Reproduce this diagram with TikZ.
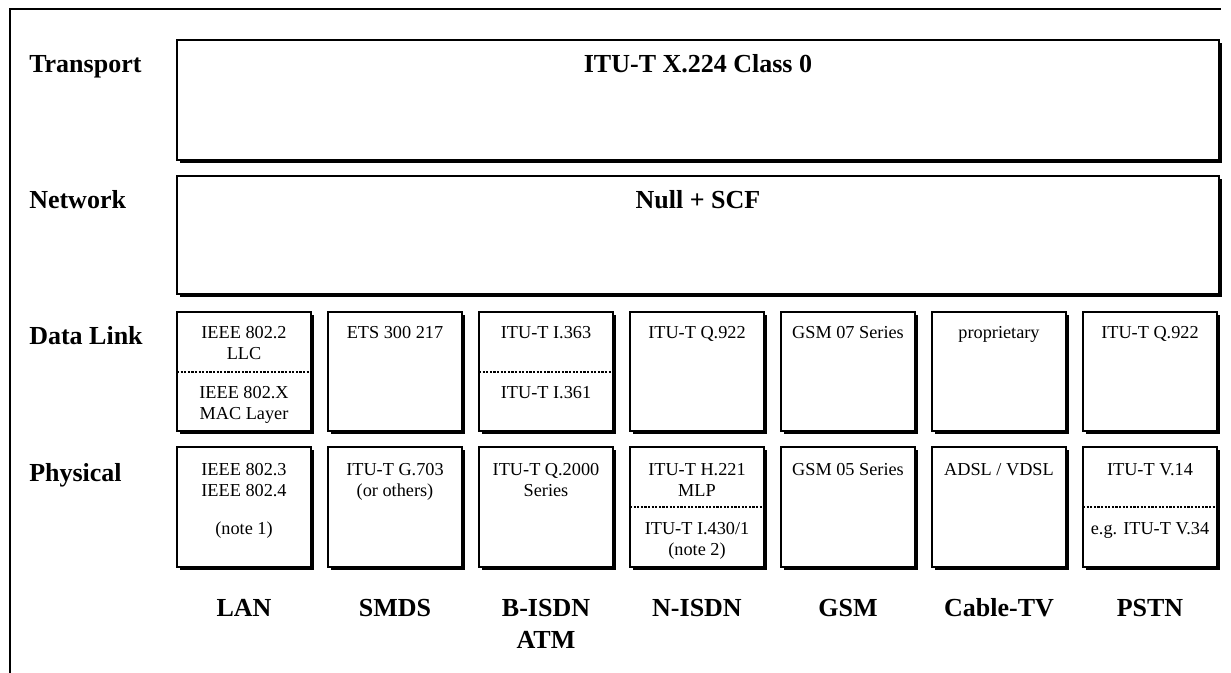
\documentclass[tikz,border=0pt]{standalone}
\usepackage{fontspec}
\setmainfont{Liberation Serif}
\usetikzlibrary{shadows}
\begin{document}
\begin{tikzpicture}[x=0.75pt,y=-0.75pt,
  frameline/.style={line width=1.8pt},
  box/.style={draw, line width=1.8pt, fill=white, inner sep=0pt, outer sep=0pt, anchor=north west,
     minimum width=100.5pt,
     drop shadow={shadow xshift=2.1pt, shadow yshift=-2.1pt, fill=black, opacity=1}},
  dlbox/.style={box, minimum height=89.25pt},
  phbox/.style={box, minimum height=90pt},
  layerbox/.style={box, minimum width=781.5pt},
  divider/.style={line width=2pt, dash pattern=on 1.6pt off 1.1pt},
  lbl/.style={font=\fontsize{19.5}{23}\selectfont\bfseries, inner sep=0pt},
  txt/.style={font=\fontsize{13.7}{16}\selectfont, inner sep=0pt, anchor=base},
]
\useasboundingbox (0,0) rectangle (1231,673);
% outer frame
\draw[frameline] (10,673) -- (10,9) -- (1221,9);

% row labels
\node[lbl, anchor=base west] (rTransport) at (29,73) {Transport};
\node[lbl, anchor=base west] (rNetwork) at (29,209) {Network};
\node[lbl, anchor=base west] (rDataLink) at (29,345) {Data Link};
\node[lbl, anchor=base west] (rPhysical) at (29,481) {Physical};

% upper layers
\node[layerbox, minimum height=90pt] (transport) at (177,40) {};
\node[lbl, anchor=base] (transportT) at (698,73) {ITU-T X.224 Class 0};
\node[layerbox, minimum height=88.5pt] (network) at (177,176) {};
\node[lbl, anchor=base] (networkT) at (698,209) {Null + SCF};

% column boxes
\foreach \i/\n in {0/lan,1/smds,2/bisdn,3/nisdn,4/gsm,5/cable,6/pstn}{
  \node[dlbox] (\n DL) at ({177+151*\i},312) {};
  \node[phbox] (\n PH) at ({177+151*\i},447) {};
}

% dividers
\draw[divider] (lanDL.west |- 0,372) -- (lanDL.east |- 0,372);
\draw[divider] (bisdnDL.west |- 0,372) -- (bisdnDL.east |- 0,372);
\draw[divider] (nisdnPH.west |- 0,507) -- (nisdnPH.east |- 0,507);
\draw[divider] (pstnPH.west |- 0,507) -- (pstnPH.east |- 0,507);

% Data link texts
\node[txt] (t1) at (244,339) {IEEE 802.2};
\node[txt] (t2) at (244,360) {LLC};
\node[txt] (t3) at (244,398) {IEEE 802.X};
\node[txt] (t4) at (244,419) {MAC Layer};
\node[txt] (t5) at (395,339) {ETS 300 217};
\node[txt] (t6) at (546,339) {ITU-T I.363};
\node[txt] (t7) at (546,398) {ITU-T I.361};
\node[txt] (t8) at (697,339) {ITU-T Q.922};
\node[txt] (t9) at (848,339) {GSM 07 Series};
\node[txt] (t10) at (999,339) {proprietary};
\node[txt] (t11) at (1150,339) {ITU-T Q.922};

% Physical texts
\node[txt] (p1) at (244,475) {IEEE 802.3};
\node[txt] (p2) at (244,496) {IEEE 802.4};
\node[txt] (p3) at (244,534) {(note 1)};
\node[txt] (p4) at (395,475) {ITU-T G.703};
\node[txt] (p5) at (395,496) {(or others)};
\node[txt] (p6) at (546,475) {ITU-T Q.2000};
\node[txt] (p7) at (546,496) {Series};
\node[txt] (p8) at (697,475) {ITU-T H.221};
\node[txt] (p9) at (697,496) {MLP};
\node[txt] (p10) at (697,534) {ITU-T I.430/1};
\node[txt] (p11) at (697,555) {(note 2)};
\node[txt] (p12) at (848,475) {GSM 05 Series};
\node[txt] (p13) at (999,475) {ADSL / VDSL};
\node[txt] (p14) at (1150,475) {ITU-T V.14};
\node[txt] (p15) at (1150,534) {e.g. ITU-T V.34};

% column labels
\node[lbl, anchor=base] (cLAN) at (244,616) {LAN};
\node[lbl, anchor=base] (cSMDS) at (395,616) {SMDS};
\node[lbl, anchor=base] (cBISDN) at (546,616) {B-ISDN};
\node[lbl, anchor=base] (cATM) at (546,648) {ATM};
\node[lbl, anchor=base] (cNISDN) at (697,616) {N-ISDN};
\node[lbl, anchor=base] (cGSM) at (848,616) {GSM};
\node[lbl, anchor=base] (cCable) at (999,616) {Cable-TV};
\node[lbl, anchor=base] (cPSTN) at (1150,616) {PSTN};
\end{tikzpicture}
\end{document}
